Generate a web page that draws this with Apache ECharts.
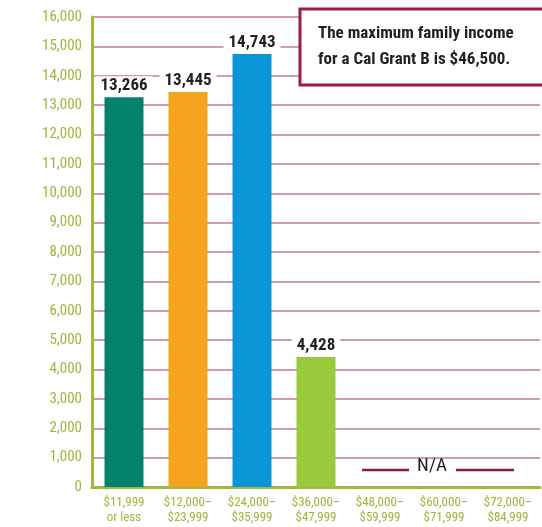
<!DOCTYPE html>
<html><head><meta charset="utf-8">
<script src="https://cdn.jsdelivr.net/npm/echarts@6/dist/echarts.min.js"></script>
<style>html,body{margin:0;padding:0;background:#fff}#c{width:542px;height:527px}</style>
</head><body><div id="c"></div>
<script>
const categories = ['$11,999\nor less','$12,000–\n$23,999','$24,000–\n$35,999','$36,000–\n$47,999','$48,000–\n$59,999','$60,000–\n$71,999','$72,000–\n$84,999'];
const values = [13266, 13445, 14743, 4428, null, null, null];
const barColors = ['#00836a','#f6a31d','#0a96d6','#9ac93c'];
const yTicks = [0,1000,2000,3000,4000,5000,6000,7000,8000,9000,10000,11000,12000,13000,14000,15000,16000];
const noteLines = ['The maximum family income','for a Cal Grant B is $46,500.'];
const naText = 'N/A';

const FONT = '"Liberation Sans Narrow","Arial Narrow","Roboto Condensed",sans-serif';
const chart = echarts.init(document.getElementById('c'));
chart.setOption({
  animation:false,
  grid:{left:92,right:2,top:17,bottom:40},
  xAxis:{type:'category',data:categories,
    axisLine:{lineStyle:{color:'#9dba3c',width:3}},
    axisTick:{show:false},
    axisLabel:{color:'#9cb83a',fontFamily:FONT,fontSize:13,lineHeight:15,margin:8,interval:0}},
  yAxis:{type:'value',min:yTicks[0],max:yTicks[yTicks.length-1],interval:1000,
    axisLine:{show:true,lineStyle:{color:'#9dba3c',width:3}},
    axisTick:{show:false},
    splitLine:{lineStyle:{color:'#c27b93',width:1.5}},
    axisLabel:{color:'#9cb83a',fontFamily:FONT,fontSize:15,margin:10,
      formatter:v=>v.toLocaleString('en-US')}},
  series:[{type:'bar',data:values.map((v,i)=>v==null?null:{value:v,itemStyle:{color:barColors[i]}}),
    barWidth:39,
    label:{show:true,position:'top',distance:2,fontFamily:FONT,fontWeight:'bold',fontSize:17,color:'#231f20',
      backgroundColor:'#fff',padding:[1,5],formatter:p=>p.value.toLocaleString('en-US')}}],
  graphic:[
    {type:'rect',shape:{x:300,y:9,width:260,height:76},style:{fill:'#fff',stroke:'#9b1c47',lineWidth:3},z:100},
    {type:'text',x:318,y:34,style:{text:noteLines[0],font:'bold 17px '+FONT,fill:'#231f20',verticalAlign:'middle'},z:101},
    {type:'text',x:318,y:60,style:{text:noteLines[1],font:'bold 17px '+FONT,fill:'#231f20',verticalAlign:'middle'},z:101},
    {type:'line',shape:{x1:362,y1:470,x2:409,y2:470},style:{stroke:'#8e1a3f',lineWidth:2.5},z:100},
    {type:'line',shape:{x1:456,y1:470,x2:514,y2:470},style:{stroke:'#8e1a3f',lineWidth:2.5},z:100},
    {type:'text',x:432,y:466,style:{text:naText,font:'19px '+FONT,fill:'#231f20',align:'center',verticalAlign:'middle'},z:101}
  ]
});
</script></body></html>
